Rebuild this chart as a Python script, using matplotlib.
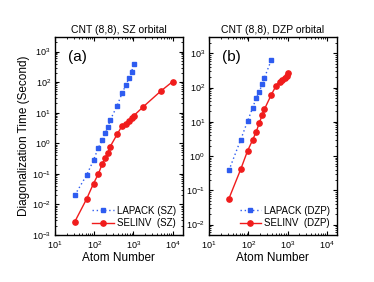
import matplotlib
matplotlib.use("Agg")
import matplotlib.pyplot as plt
from matplotlib.ticker import LogLocator, NullFormatter

plt.rcParams["font.family"] = ["Liberation Sans", "DejaVu Sans"]
plt.rcParams["mathtext.fontset"] = "custom"
plt.rcParams["mathtext.rm"] = "Liberation Sans"

# (a) SZ orbital
sz_lapack_n = [32, 64, 96, 128, 160, 192, 224, 256, 384, 512, 640, 768, 896, 1024]
sz_lapack_t = [0.02, 0.09, 0.28, 0.72, 1.25, 2.1, 3.5, 5.7, 17, 43, 80, 135, 222, 380]
sz_selinv_n = [32, 64, 96, 128, 160, 192, 224, 256, 384, 512, 640, 768, 896, 1024,
               1800, 5000, 10000]
sz_selinv_t = [0.0027, 0.015, 0.048, 0.1, 0.21, 0.33, 0.49, 0.78, 1.95, 3.7, 4.2,
               5.4, 6.6, 8.0, 15.8, 51, 104]

# (b) DZP orbital
dzp_lapack_n = [32, 64, 96, 128, 160, 192, 224, 256, 384]
dzp_lapack_t = [0.38, 3.0, 10.5, 25, 50, 76, 125, 188, 630]
dzp_selinv_n = [32, 64, 96, 128, 160, 192, 224, 256, 384, 512, 640, 720, 840, 950, 1024]
dzp_selinv_t = [0.057, 0.41, 1.43, 2.9, 5.2, 9.5, 15.3, 23, 61, 114, 147, 168, 194,
                220, 258]

BLUE = "#2e5cf0"
RED = "#f01c1c"

fig = plt.figure(figsize=(3.74, 2.82), dpi=100)
ax_a = fig.add_axes([0.147, 0.167, 0.3415, 0.702])
ax_b = fig.add_axes([0.559, 0.167, 0.3415, 0.702])

panels = [
    (ax_a, sz_lapack_n, sz_lapack_t, sz_selinv_n, sz_selinv_t, "SZ", "(a)", (1e-3, 3e3)),
    (ax_b, dzp_lapack_n, dzp_lapack_t, dzp_selinv_n, dzp_selinv_t, "DZP", "(b)", (5e-3, 3e3)),
]

for ax, ln, lt, sn, st, tag, letter, ylim in panels:
    ax.plot(ln, lt, linestyle=(0, (1, 2)), color=BLUE, lw=1.0, marker="s",
            ms=3.5, mec=BLUE, mfc=BLUE, label=f"LAPACK ({tag})")
    ax.plot(sn, st, linestyle="-", color=RED, lw=1.0, marker="o",
            ms=3.8, mec=RED, mfc=RED, label=f"SELINV  ({tag})")
    ax.set_xscale("log")
    ax.set_yscale("log")
    ax.set_xlim(10, 1.8e4)
    ax.set_ylim(*ylim)
    ax.xaxis.set_major_locator(LogLocator(base=10, numticks=10))
    ax.yaxis.set_major_locator(LogLocator(base=10, numticks=10))
    ax.xaxis.set_minor_locator(LogLocator(base=10, subs=range(2, 10), numticks=10))
    ax.yaxis.set_minor_locator(LogLocator(base=10, subs=range(2, 10), numticks=10))
    ax.xaxis.set_minor_formatter(NullFormatter())
    ax.yaxis.set_minor_formatter(NullFormatter())
    ax.tick_params(which="both", direction="in", top=True, right=True,
                   labelsize=6.5, pad=3)
    ax.tick_params(which="major", length=3, width=0.8)
    ax.tick_params(which="minor", length=1.6, width=0.6)
    for s in ax.spines.values():
        s.set_linewidth(1.0)
    ax.set_title(f"CNT (8,8), {tag} orbital", fontsize=7.5, pad=3)
    ax.set_xlabel("Atom Number", fontsize=8.5, labelpad=1)
    ax.text(0.1, 0.88, letter, transform=ax.transAxes, fontsize=11)
    ax.legend(loc="lower right", frameon=False, fontsize=7, handlelength=2.2,
              handletextpad=0.3, labelspacing=0.25, borderaxespad=0.3)

ax_a.set_ylabel("Diagonalization Time (Second)", fontsize=8.5, labelpad=1)

fig.savefig("out.png", dpi=100)
